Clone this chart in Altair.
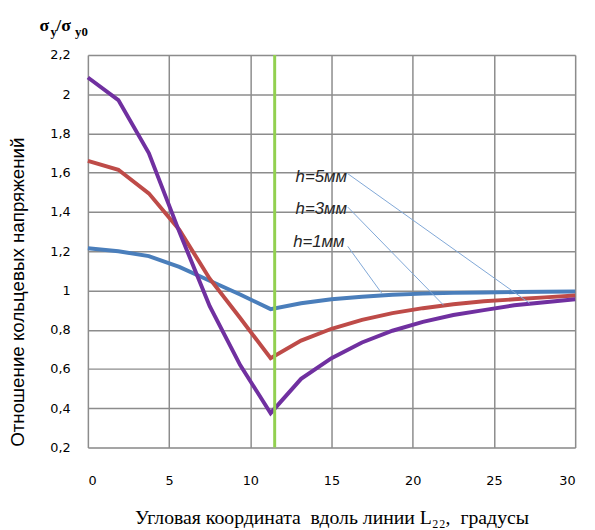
import altair as alt
import pandas as pd

# ---- data ----
x_vals = [0, 1.875, 3.75, 5.625, 7.5, 9.375, 11.25, 13.125, 15, 16.875,
          18.75, 20.625, 22.5, 24.375, 26.25, 28.125, 30]
h1_vals = [1.215, 1.20, 1.175, 1.12, 1.05, 0.98, 0.905, 0.935, 0.955, 0.968,
           0.978, 0.984, 0.988, 0.990, 0.992, 0.994, 0.995]
h3_vals = [1.66, 1.615, 1.495, 1.31, 1.06, 0.86, 0.655, 0.745, 0.805, 0.85,
           0.885, 0.91, 0.93, 0.945, 0.955, 0.965, 0.975]
h5_vals = [2.085, 1.97, 1.70, 1.30, 0.92, 0.62, 0.375, 0.55, 0.655, 0.735,
           0.795, 0.84, 0.875, 0.90, 0.925, 0.94, 0.955]

series_names = ["h=1мм", "h=3мм", "h=5мм"]
series_colors = ["#4A7EBB", "#BE4B48", "#7030A0"]

marker_x = [11.5]

label_text = ["h=5мм", "h=3мм", "h=1мм"]
label_x = [15.95, 15.95, 15.8]
label_y = [1.58, 1.415, 1.245]
leader_x1 = [16.0, 16.0, 16.0]
leader_y1 = [1.595, 1.425, 1.225]
leader_x2 = [27.2, 21.9, 18.1]
leader_y2 = [0.935, 0.925, 0.985]

y_ticks = [0.2, 0.4, 0.6, 0.8, 1.0, 1.2, 1.4, 1.6, 1.8, 2.0, 2.2]
x_ticks = [0, 5, 10, 15, 20, 25, 30]

# ---- tables ----
rows = []
for name, vals in zip(series_names, [h1_vals, h3_vals, h5_vals]):
    for xv, yv in zip(x_vals, vals):
        rows.append({"x": xv, "y": yv, "series": name})
df = pd.DataFrame(rows)

df_marker = pd.DataFrame({"x": marker_x})
df_labels = pd.DataFrame({"x": label_x, "y": label_y, "text": label_text})
df_leaders = pd.DataFrame({"x": leader_x1, "y": leader_y1, "x2": leader_x2, "y2": leader_y2})

W, H = 494, 398

xs = alt.Scale(domain=[0, 30], nice=False)
ys = alt.Scale(domain=[0.2, 2.2], nice=False)

NB = "\u00a0"
x_title = f"Угловая координата{NB} вдоль линии L₂₂,{NB} градусы"

x_axis = alt.Axis(
    values=x_ticks, title=x_title,
    titleFont="Liberation Serif", titleFontSize=20, titleFontWeight="normal",
    titleColor="#000", titlePadding=21,
    labelFont="DejaVu Sans", labelFontSize=13, labelColor="#000",
    labelPadding=27, ticks=False, domain=False, labelOverlap=False,
    grid=True, gridColor="#8C8C8C", gridWidth=1.5,
)
y_axis = alt.Axis(
    values=y_ticks, title="Отношение кольцевых напряжений",
    labelExpr="replace(format(datum.value, '.1~f'), '.', ',')",
    titleFont="Liberation Sans", titleFontSize=19, titleFontWeight="normal",
    titleColor="#000", titleAngle=-90, titleX=-71, titleY=240,
    titleAlign="center", titleBaseline="middle",
    labelFont="DejaVu Sans", labelFontSize=13, labelColor="#000",
    labelPadding=18, ticks=False, domain=False, labelOverlap=False,
    grid=True, gridColor="#8C8C8C", gridWidth=1.5,
)

X = lambda f: alt.X(f, scale=xs, axis=x_axis)
Y = lambda f: alt.Y(f, scale=ys, axis=y_axis)

lines = alt.Chart(df).mark_line(strokeWidth=4).encode(
    x=X("x:Q"),
    y=Y("y:Q"),
    color=alt.Color("series:N", scale=alt.Scale(domain=series_names, range=series_colors), legend=None),
    detail="series:N",
)

marker = alt.Chart(df_marker).mark_rule(color="#92D050", strokeWidth=3).encode(
    x=X("x:Q")
)

leaders = alt.Chart(df_leaders).mark_rule(color="#7FA7D6", strokeWidth=1).encode(
    x=X("x:Q"), y=Y("y:Q"),
    x2="x2:Q", y2="y2:Q",
)

labels = alt.Chart(df_labels).mark_text(
    align="right", baseline="middle", font="Liberation Sans", fontSize=17,
    fontStyle="italic", color="#262626",
).encode(
    x=X("x:Q"), y=Y("y:Q"), text="text:N"
)

# top-left axis label  σy/σy0 (with subscripts)
title_parts = pd.DataFrame({
    "t": ["σ", "y", "/σ", "y0"],
    "px": [-49, -38, -32, -13],
    "py": [-24, -19, -24, -19],
    "fs": [18, 13, 18, 13],
})
sig = alt.Chart(title_parts).mark_text(
    align="left", baseline="alphabetic", font="Liberation Serif",
    fontWeight="bold", color="#000",
).encode(
    x=alt.X("px:Q", scale=None), y=alt.Y("py:Q", scale=None),
    text="t:N", size=alt.Size("fs:Q", scale=None, legend=None),
)

chart = alt.layer(lines, marker, leaders, labels, sig).properties(
    width=W, height=H,
    autosize=alt.AutoSizeParams(type="none"),
    padding={"left": 81, "top": 44, "right": 12, "bottom": 80},
).configure_view(stroke="#8C8C8C", strokeWidth=1.5).configure(background="white")

chart.save("out.html", embed_options={"renderer": "svg", "actions": False})
